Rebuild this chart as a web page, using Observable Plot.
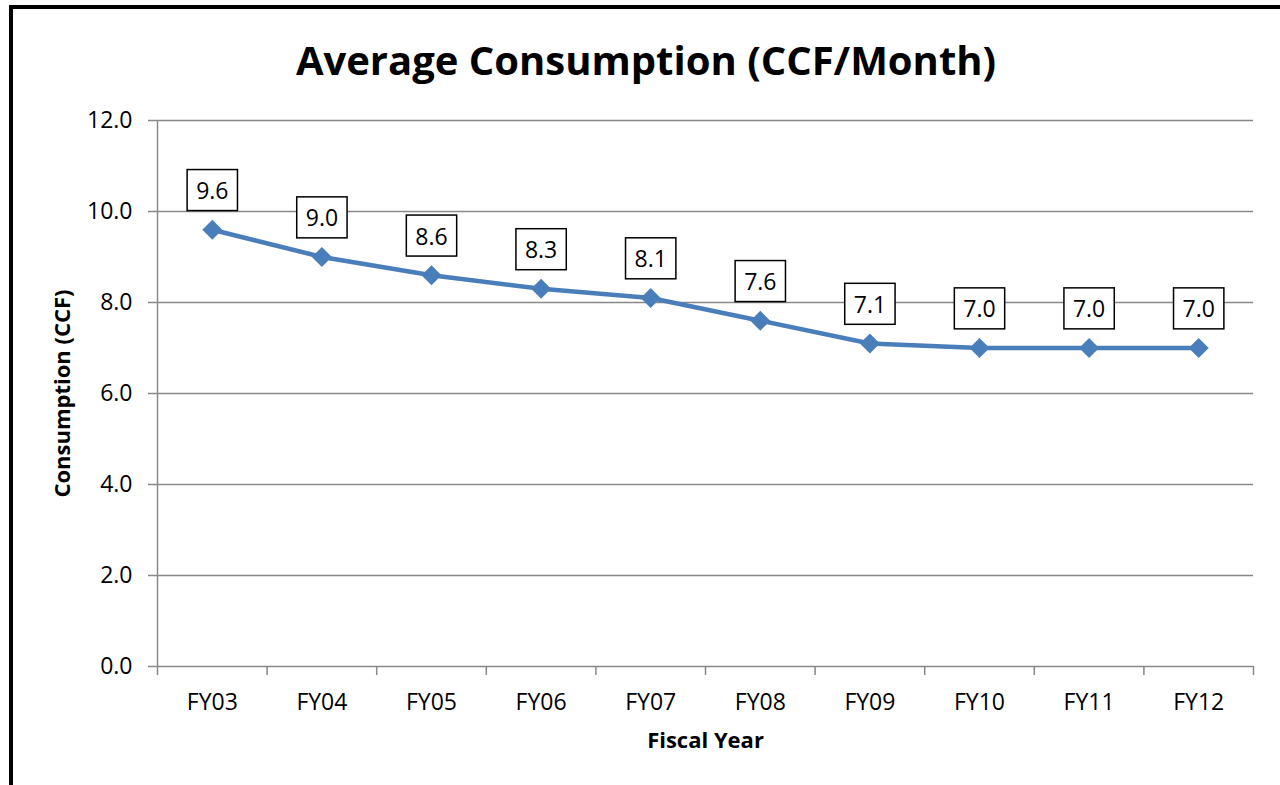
<!DOCTYPE html>
<html>
<head>
<meta charset="utf-8">
<script src="https://cdn.jsdelivr.net/npm/d3@7"></script>
<script src="https://cdn.jsdelivr.net/npm/@observablehq/plot@0.6"></script>
<style>
  html, body { margin: 0; padding: 0; background: #fff; }
  #wrap { position: relative; width: 1280px; height: 785px; overflow: hidden; font-family: "Open Sans", sans-serif; }
  #title { position: absolute; left: 0; width: 1292px; top: 30px; text-align: center; font-weight: bold; font-size: 40px; color: #000; line-height: 60px; }
  #frameTop { position: absolute; left: 9px; top: 5px; width: 1280px; height: 4px; background: #000; }
  #frameLeft { position: absolute; left: 9px; top: 5px; width: 4px; height: 800px; background: #000; }
  #chart { position: absolute; left: 0; top: 0; }
</style>
</head>
<body>
<div id="wrap">
  <div id="chart"></div>
  <div id="title">Average Consumption (CCF/Month)</div>
  <div id="frameTop"></div>
  <div id="frameLeft"></div>
</div>
<script>
const categories = ["FY03", "FY04", "FY05", "FY06", "FY07", "FY08", "FY09", "FY10", "FY11", "FY12"];
const values = [9.6, 9.0, 8.6, 8.3, 8.1, 7.6, 7.1, 7.0, 7.0, 7.0];
const yTicks = [0, 2, 4, 6, 8, 10, 12];
const yLabel = "Consumption (CCF)";
const xLabel = "Fiscal Year";

const data = categories.map((c, i) => ({category: c, index: i + 0.5, value: values[i]}));
const gray = "#888888";
const blue = "#4A7EBB";

const plot = Plot.plot({
  width: 1280,
  height: 785,
  marginTop: 120,
  marginBottom: 119,
  marginLeft: 157,
  marginRight: 27,
  style: {fontFamily: "Open Sans, sans-serif", fontSize: "23px", color: "#000", background: "transparent"},
  x: {domain: [0, categories.length], axis: null},
  y: {domain: [0, 12], axis: null},
  marks: [
    Plot.gridY(yTicks.filter(d => d > 0), {stroke: gray, strokeOpacity: 1, strokeWidth: 1.5}),
    Plot.ruleY([0], {stroke: gray, strokeWidth: 1.5}),
    Plot.ruleX([0], {stroke: gray, strokeWidth: 1.5}),
    Plot.axisY({ticks: yTicks, tickFormat: d => d.toFixed(1), tickSize: 9, tickPadding: 16, stroke: gray, strokeWidth: 1.5, fill: "#000", label: null, fontSize: 23}),
    Plot.axisX({ticks: d3.range(0, categories.length + 1), tickSize: 9, tickFormat: () => "", stroke: gray, strokeWidth: 1.5, label: null}),
    Plot.axisX({ticks: data.map(d => d.index), tickSize: 0, tickPadding: 27, tickFormat: i => categories[Math.floor(i)], fill: "#000", label: null, fontSize: 23}),
    Plot.text([yLabel], {frameAnchor: "left", dx: -95, rotate: -90, textAnchor: "middle", fontWeight: "bold", fontSize: 22, fill: "#000"}),
    Plot.text([xLabel], {frameAnchor: "bottom", dy: 81, textAnchor: "middle", fontWeight: "bold", fontSize: 22, fill: "#000"}),
    Plot.line(data, {x: "index", y: "value", stroke: blue, strokeWidth: 4.5}),
    Plot.dot(data, {x: "index", y: "value", symbol: "diamond2", r: 9, fill: blue, stroke: "none"}),
    Plot.text(data, {x: "index", y: "value", text: d => d.value.toFixed(1), dy: -38, fontSize: 23, fill: "#000", className: "vlabels"})
  ]
});
document.getElementById("chart").appendChild(plot);

// draw boxes behind data labels
const g = plot.querySelector("g.vlabels") || Array.from(plot.querySelectorAll("g")).find(n => n.getAttribute("class") && n.getAttribute("class").includes("vlabels"));
if (g) {
  const texts = Array.from(g.querySelectorAll("text"));
  texts.forEach(t => {
    const b = t.getBBox();
    const rect = document.createElementNS("http://www.w3.org/2000/svg", "rect");
    const padX = 9, w = b.width + 2 * padX, h = 41;
    const cy = b.y + b.height / 2;
    rect.setAttribute("x", b.x - padX);
    rect.setAttribute("y", cy - h / 2);
    rect.setAttribute("width", w);
    rect.setAttribute("height", h);
    rect.setAttribute("fill", "#fff");
    rect.setAttribute("stroke", "#000");
    rect.setAttribute("stroke-width", 1.5);
    const tr = t.getAttribute("transform");
    if (tr) rect.setAttribute("transform", tr);
    g.insertBefore(rect, t);
  });
}
</script>
</body>
</html>
